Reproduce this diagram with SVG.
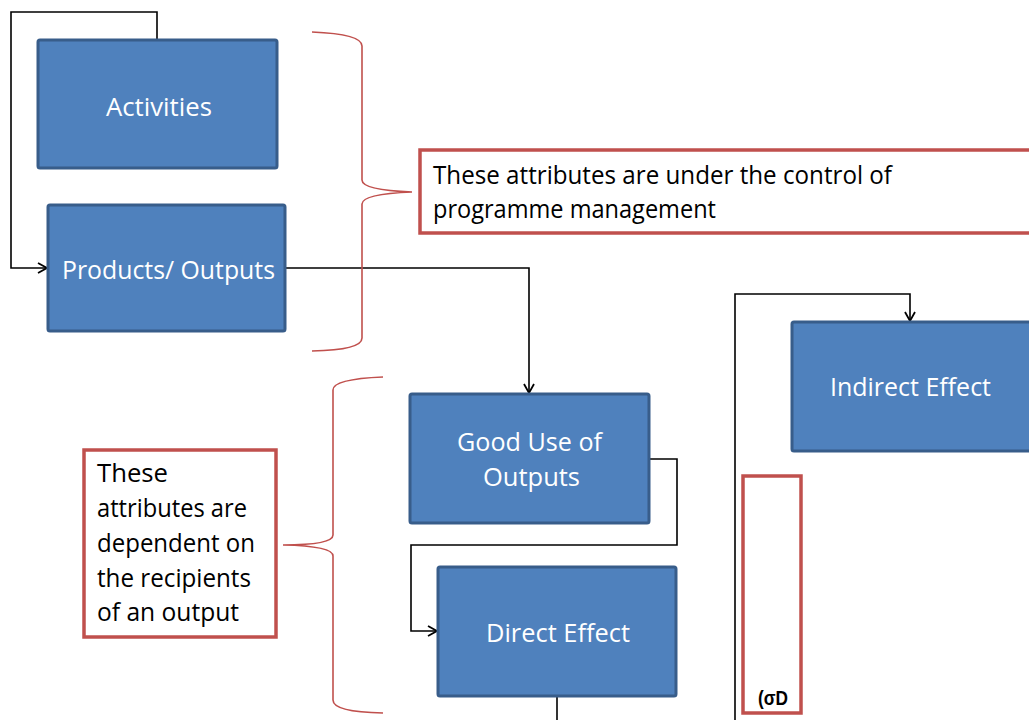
<svg xmlns="http://www.w3.org/2000/svg" width="1029" height="720" viewBox="0 0 1029 720">
<style>
.node{fill:#4f81bd;stroke:#385d8a;stroke-width:3}
.note{fill:#fff;stroke:#c0504d;stroke-width:3.5}
.brace{fill:none;stroke:#c0504d;stroke-width:1.6}
.conn{fill:none;stroke:#000;stroke-width:1.6}
.lbl{font-family:"Open Sans","Noto Sans",sans-serif;font-size:26px;fill:#fff}
.txt{font-family:"Open Sans","Noto Sans",sans-serif;font-size:26px;fill:#000}
</style>
<defs>
<marker id="arr" markerWidth="12" markerHeight="12" refX="10" refY="6" orient="auto" markerUnits="userSpaceOnUse">
<path d="M1,1 L10,6 L1,11" fill="none" stroke="#000" stroke-width="1.8"/>
</marker>
</defs>
<rect width="1029" height="720" fill="#fff"/>
<g id="connectors">
<path class="conn" d="M157,40 V12 H11 V268 H47" marker-end="url(#arr)"/>
<path class="conn" d="M285,268 H529 V393" marker-end="url(#arr)"/>
<path class="conn" d="M649,459 H677 V545 H411 V631 H437" marker-end="url(#arr)"/>
<path class="conn" d="M557,696 V720"/>
<path class="conn" d="M735,720 V294 H910 V321" marker-end="url(#arr)"/>
</g>
<g id="brace1"><path class="brace" d="M312,32 Q362,34 362,46 V180 Q362,190 412,192 Q362,194 362,204 V338 Q362,350 312,351"/></g>
<g id="brace2"><path class="brace" d="M383,377 Q333,379 333,390 V535 Q333,545 283,545 Q333,546 333,556 V700 Q333,712 383,713"/></g>
<g id="activities"><rect class="node" x="38" y="40" width="239" height="128" rx="2"/><text class="lbl" x="106" y="116" textLength="106" lengthAdjust="spacingAndGlyphs">Activities</text></g>
<g id="products"><rect class="node" x="48" y="205" width="237" height="126" rx="2"/><text class="lbl" x="62" y="279" textLength="213" lengthAdjust="spacingAndGlyphs">Products/ Outputs</text></g>
<g id="gooduse"><rect class="node" x="410" y="394" width="239" height="129" rx="2"/><text class="lbl" x="457" y="451" textLength="145" lengthAdjust="spacingAndGlyphs">Good Use of</text><text class="lbl" x="483" y="486" textLength="97" lengthAdjust="spacingAndGlyphs">Outputs</text></g>
<g id="direct"><rect class="node" x="438" y="567" width="238" height="129" rx="2"/><text class="lbl" x="486" y="642" textLength="144" lengthAdjust="spacingAndGlyphs">Direct Effect</text></g>
<g id="indirect"><rect class="node" x="792" y="322" width="240" height="129" rx="2"/><text class="lbl" x="830" y="396" textLength="161" lengthAdjust="spacingAndGlyphs">Indirect Effect</text></g>
<g id="note1"><rect class="note" x="420" y="150" width="620" height="83"/><text class="txt" x="433" y="184" textLength="459" lengthAdjust="spacingAndGlyphs">These attributes are under the control of</text><text class="txt" x="433" y="218" textLength="283" lengthAdjust="spacingAndGlyphs">programme management</text></g>
<g id="note2"><rect class="note" x="84" y="450" width="192" height="187"/>
<text class="txt" x="97" y="482" textLength="71" lengthAdjust="spacingAndGlyphs">These</text>
<text class="txt" x="97" y="517" textLength="150" lengthAdjust="spacingAndGlyphs">attributes are</text>
<text class="txt" x="97" y="552" textLength="158" lengthAdjust="spacingAndGlyphs">dependent on</text>
<text class="txt" x="97" y="587" textLength="154" lengthAdjust="spacingAndGlyphs">the recipients</text>
<text class="txt" x="97" y="621" textLength="142" lengthAdjust="spacingAndGlyphs">of an output</text></g>
<g id="note3"><rect class="note" x="743" y="476" width="58" height="237"/><text x="758" y="705" font-family="Liberation Sans,sans-serif" font-weight="bold" font-size="21" textLength="30" lengthAdjust="spacingAndGlyphs">(σD</text></g>
</svg>
